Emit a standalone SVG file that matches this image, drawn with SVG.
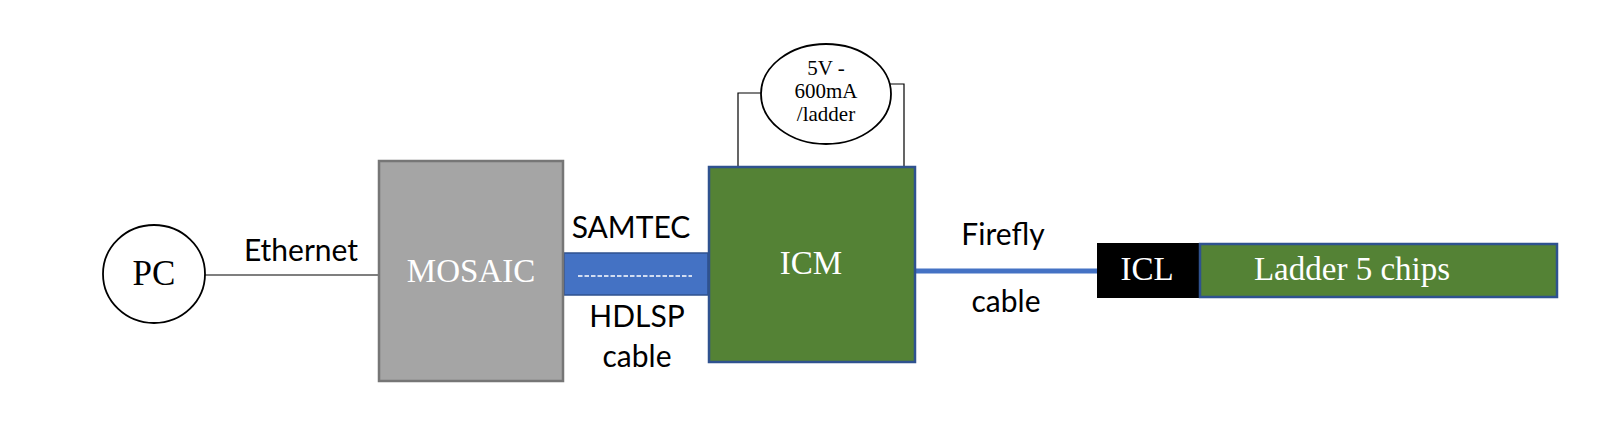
<svg xmlns="http://www.w3.org/2000/svg" width="1610" height="436" viewBox="0 0 1610 436">
<style>
.sans{font-family:Lato,"Liberation Sans",sans-serif;font-size:30px;fill:#000;text-anchor:middle}
.serif{font-family:"Liberation Serif","Times New Roman",serif;text-anchor:middle}
.w{fill:#fff;font-size:33px}
.green{fill:#548235;stroke:#2f528f;stroke-width:2.5}
.wire{fill:none;stroke:#000;stroke-width:1.2}
</style>
<rect width="1610" height="436" fill="#fff"/>
<g id="connectors">
<line x1="205" y1="275" x2="378" y2="275" class="wire"/>
<polyline points="761,93 738,93 738,166" class="wire"/>
<polyline points="890,84 904,84 904,166" class="wire"/>
<line x1="915" y1="271" x2="1097" y2="271" stroke="#4472c4" stroke-width="5"/>
<g id="samtec-cable">
<rect x="564" y="253" width="144" height="42" fill="#4472c4" stroke="#2f528f" stroke-width="1.5"/>
<line x1="578" y1="276" x2="692" y2="276" stroke="#fff" stroke-width="1.5" stroke-dasharray="4.5,2"/>
</g>
<text class="sans" x="301" y="261">Ethernet</text>
<text class="sans" x="631" y="238">SAMTEC</text>
<text class="sans" x="637" y="327">HDLSP</text>
<text class="sans" x="637" y="367">cable</text>
<text class="sans" x="1003" y="245">Firefly</text>
<text class="sans" x="1006" y="312">cable</text>
</g>
<g id="pc">
<ellipse cx="154" cy="274" rx="51" ry="49" fill="#fff" stroke="#000" stroke-width="1.8"/>
<text class="serif" x="154" y="285" font-size="35">PC</text>
</g>
<g id="mosaic">
<rect x="379" y="161" width="184" height="220" fill="#a5a5a5" stroke="#767676" stroke-width="2.5"/>
<text class="serif w" x="471" y="282">MOSAIC</text>
</g>
<g id="icm">
<rect x="709" y="167" width="206" height="195" class="green"/>
<text class="serif w" x="811" y="274">ICM</text>
</g>
<g id="power">
<ellipse cx="826" cy="94" rx="65" ry="50" fill="#fff" stroke="#000" stroke-width="1.8"/>
<text class="serif" x="826" y="75" font-size="21">5V -</text>
<text class="serif" x="826" y="98" font-size="21">600mA</text>
<text class="serif" x="826" y="121" font-size="21">/ladder</text>
</g>
<g id="icl">
<rect x="1097" y="243" width="103" height="55" fill="#000"/>
<text class="serif w" x="1147" y="280" font-size="32">ICL</text>
</g>
<g id="ladder">
<rect x="1200" y="244" width="357" height="53" class="green"/>
<text class="serif w" x="1352" y="280">Ladder 5 chips</text>
</g>
</svg>
